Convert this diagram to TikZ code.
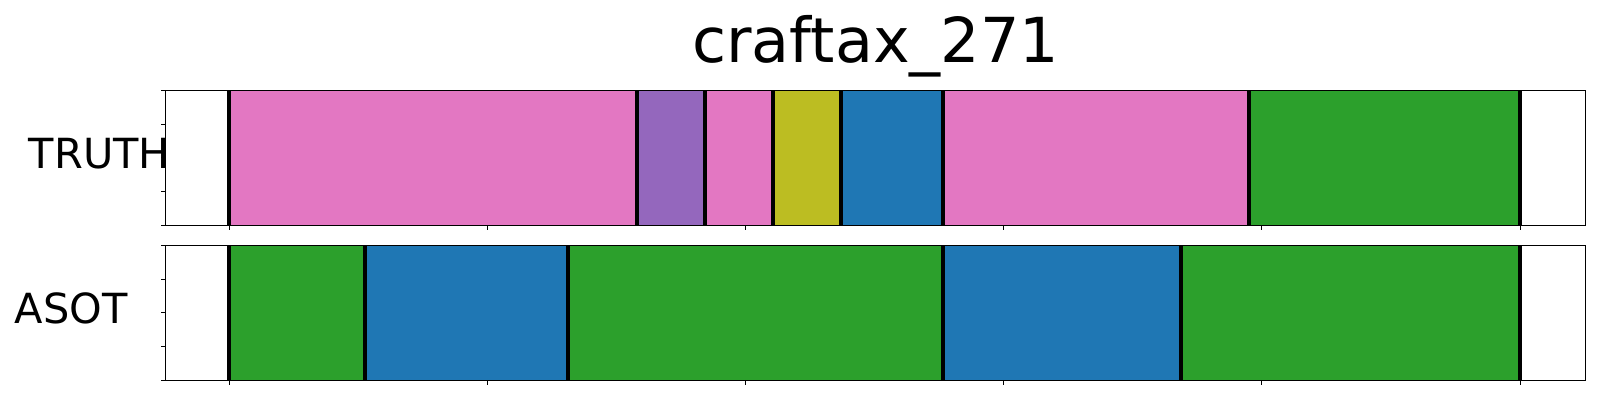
\documentclass[tikz,border=0pt]{standalone}
\usepackage{fontspec}
\setmainfont{DejaVu Sans}
\definecolor{tabpink}{HTML}{E377C2}
\definecolor{tabpurple}{HTML}{9467BD}
\definecolor{tabolive}{HTML}{BCBD22}
\definecolor{tabblue}{HTML}{1F77B4}
\definecolor{tabgreen}{HTML}{2CA02C}

\begin{document}
\begin{tikzpicture}[x=0.5pt,y=-0.5pt,
  frame/.style={line width=0.55pt},
  cut/.style={line width=2pt},
  tick/.style={line width=0.5pt},
  rowlabel/.style={anchor=base west, inner sep=0pt, font=\fontsize{20.75}{24}\selectfont}]
\useasboundingbox (0,0) rectangle (1600,400);

% title and row labels
\node [anchor=base, inner sep=0pt, font=\fontsize{31}{36}\selectfont] (title) at (875.7,62.3) {craftax\_271};
\node [rowlabel] (truth) at (28.5,168.7) {TRUTH};
\node [rowlabel] (asot) at (14.5,323.7) {ASOT};

% TRUTH row
\foreach \a/\b/\c in {229/637/tabpink, 637/705/tabpurple, 705/773/tabpink, 773/841/tabolive,
                      841/942.7/tabblue, 942.7/1249/tabpink, 1249/1520/tabgreen}
  \filldraw [fill=\c, draw=\c!70!black, line width=0.3pt] (\a,90.3) rectangle (\b,225.3);
\foreach \x in {229,637,705,773,841,942.7,1249,1520}
  \draw [cut] (\x,90.3) -- (\x,225.3);

% ASOT row
\foreach \a/\b/\c in {229/364.7/tabgreen, 364.7/568.4/tabblue, 568.4/942.7/tabgreen,
                      942.7/1181/tabblue, 1181/1520/tabgreen}
  \filldraw [fill=\c, draw=\c!70!black, line width=0.3pt] (\a,245.3) rectangle (\b,380.3);
\foreach \x in {229,364.7,568.4,942.7,1181,1520}
  \draw [cut] (\x,245.3) -- (\x,380.3);

% frames and ticks
\draw [frame] (165.7,90.3) rectangle (1585.7,225.3);
\draw [frame] (165.7,245.3) rectangle (1585.7,380.3);
\foreach \y in {0,...,4} {
  \draw [tick] (165.7,90.3+33.75*\y) -- ++(-4.9,0);
  \draw [tick] (165.7,245.3+33.75*\y) -- ++(-4.9,0);
}
\foreach \k in {0,...,5} {
  \draw [tick] (229+258.2*\k,225.3) -- ++(0,4.9);
  \draw [tick] (229+258.2*\k,380.3) -- ++(0,4.9);
}
\end{tikzpicture}
\end{document}
